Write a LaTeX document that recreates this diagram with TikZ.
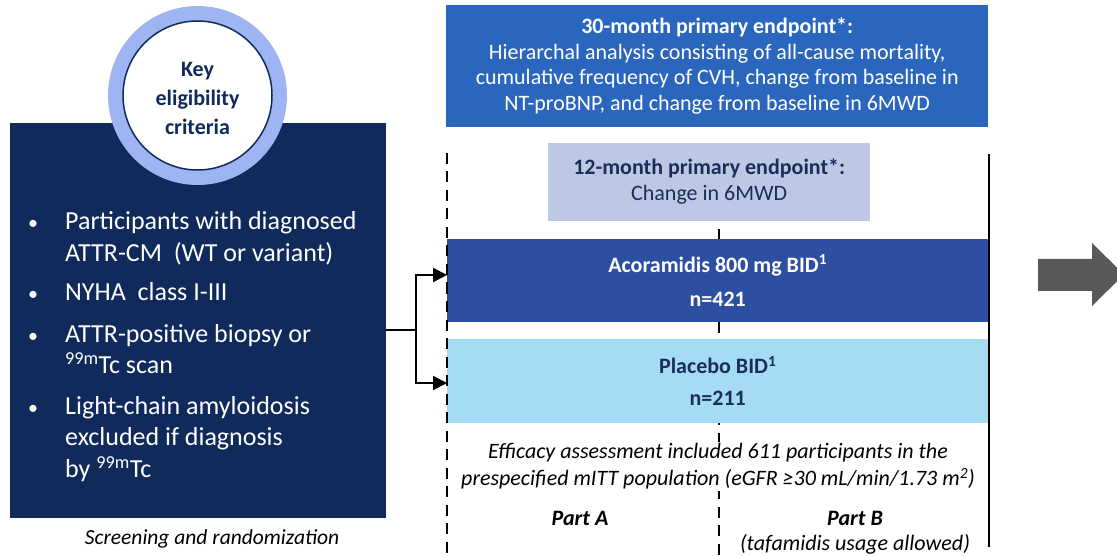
\documentclass[tikz,border=0pt]{standalone}
\usepackage{fontspec}
\setmainfont{Carlito}
\usetikzlibrary{arrows.meta,calc}

\definecolor{navy}{HTML}{102A5C}
\definecolor{ringblue}{HTML}{9EB4F3}
\definecolor{topblue}{HTML}{2A66BD}
\definecolor{paleblue}{HTML}{BDC9E4}
\definecolor{drugblue}{HTML}{2C4FA2}
\definecolor{skyblue}{HTML}{A5DCF4}
\definecolor{darktext}{HTML}{1B2D5A}
\definecolor{arrowgray}{HTML}{595959}

\tikzset{
  panel/.style={anchor=north west, inner sep=0pt, draw=none},
  bullettext/.style={anchor=mid west, text=white, font=\fontsize{26}{31}\selectfont, inner sep=0pt},
  bulletdot/.style={anchor=mid, text=white, font=\fontsize{20}{24}\selectfont, inner sep=0pt},
  timeline/.style={line width=2pt, dash pattern=on 11pt off 7.5pt},
  link/.style={line width=2pt, -{Triangle[length=14pt,width=14pt]}},
}

\begin{document}
\begin{tikzpicture}[x=1pt,y=-1pt]
\useasboundingbox (0,0) rectangle (1117,556);

% eligibility panel
\node[panel, fill=navy, minimum width=376pt, minimum height=395pt] (crit) at (10,123) {};
\node[circle, fill=ringblue, minimum size=179pt, inner sep=0pt] (ring) at (197.5,95.5) {};
\node[circle, fill=white, draw=navy, line width=1.5pt, minimum size=149pt, inner sep=0pt] (keyc) at (197.5,95.5) {};
\node[align=center, text=navy, font=\bfseries\fontsize{22}{29}\selectfont] (keytxt) at (197.5,98) {Key\\eligibility\\criteria};

\node[bulletdot] (b1) at (33,227) {•};
\node[bullettext] (l1a) at (65,227) {Participants with diagnosed};
\node[bullettext] (l1b) at (65,259) {ATTR-CM\ \ (WT or variant)};
\node[bulletdot] (b2) at (33,298) {•};
\node[bullettext] (l2a) at (65,298) {NYHA\ \ class I-III};
\node[bulletdot] (b3) at (33,340) {•};
\node[bullettext] (l3a) at (65,340) {ATTR-positive biopsy or};
\node[bullettext] (l3b) at (65,371) {\textsuperscript{99m}Tc scan};
\node[bulletdot] (b4) at (33,412) {•};
\node[bullettext] (l4a) at (65,412) {Light-chain amyloidosis};
\node[bullettext] (l4b) at (65,443) {excluded if diagnosis};
\node[bullettext] (l4c) at (65,475) {by \textsuperscript{99m}Tc};

\node[font=\itshape\fontsize{21.5}{25}\selectfont] (cap) at (212,539) {Screening and randomization};

% endpoints
\node[panel, fill=topblue, minimum width=542pt, minimum height=122pt] (ep30) at (446,5) {};
\node[align=center, text=white, font=\fontsize{22}{25.5}\selectfont] (ep30txt) at (ep30.center)
  {\textbf{30-month primary endpoint*:}\\Hierarchal analysis consisting of all-cause mortality,\\cumulative frequency of CVH, change from baseline in\\NT-proBNP, and change from baseline in 6MWD};

% study timeline lines (middle one sits behind the arms)
\coordinate (midtop) at (719,229);
\coordinate (midbot) at (719,556);
\draw[timeline] (midtop) -- (midbot);

\node[panel, fill=paleblue, minimum width=322pt, minimum height=78pt] (ep12) at (548,143) {};
\node[align=center, text=darktext, font=\fontsize{22}{26}\selectfont] (ep12txt) at ($(ep12.center)+(0,-1)$)
  {\textbf{12-month primary endpoint*:}\\Change in 6MWD};

% treatment arms
\node[panel, fill=drugblue, minimum width=541pt, minimum height=83pt] (acor) at (447,239) {};
\node[align=center, text=white, font=\bfseries\fontsize{22}{34}\selectfont] (acortxt) at (acor.center)
  {Acoramidis 800 mg BID\textsuperscript{1}\\n=421};
\node[panel, fill=skyblue, minimum width=541pt, minimum height=84pt] (plac) at (447,339) {};
\node[align=center, text=darktext, font=\bfseries\fontsize{22}{32}\selectfont] (plactxt) at (plac.center)
  {Placebo BID\textsuperscript{1}\\n=211};

\node[align=center, fill=white, inner sep=2pt, font=\itshape\fontsize{22}{27}\selectfont] (eff) at (718,466.5)
  {Efficacy assessment included 611 participants in the\\prespecified mITT population (eGFR ≥30 mL/min/1.73 m\textsuperscript{2})};

\node[font=\bfseries\itshape\fontsize{22}{24}\selectfont] (partA) at (580,518) {Part A};
\node[font=\bfseries\itshape\fontsize{22}{24}\selectfont] (partB) at (855,518) {Part B};
\node[font=\itshape\fontsize{22}{24}\selectfont] (taf) at (855,544) {(tafamidis usage allowed)};

% outer timeline edges
\coordinate (lefttop) at (447,153);
\coordinate (leftbot) at (447,556);
\draw[timeline] (lefttop) -- (leftbot);
\coordinate (righttop) at (989,154);
\coordinate (rightbot) at (989,547);
\draw[line width=2.2pt] (righttop) -- (rightbot);

% randomization connector
\coordinate (split) at (416,330);
\coordinate (toA) at (416,275);
\coordinate (toP) at (416,383);
\draw[line width=2pt] (crit.east |- split) -- (split);
\draw[link] (split) -- (toA) -- (acor.west |- toA);
\draw[link] (split) -- (toP) -- (plac.west |- toP);

% continuation arrow
\fill[arrowgray] (1038,259) -- (1092,259) -- (1092,243) -- (1124,274.5) -- (1092,306) -- (1092,291) -- (1038,291) -- cycle;
\end{tikzpicture}
\end{document}
